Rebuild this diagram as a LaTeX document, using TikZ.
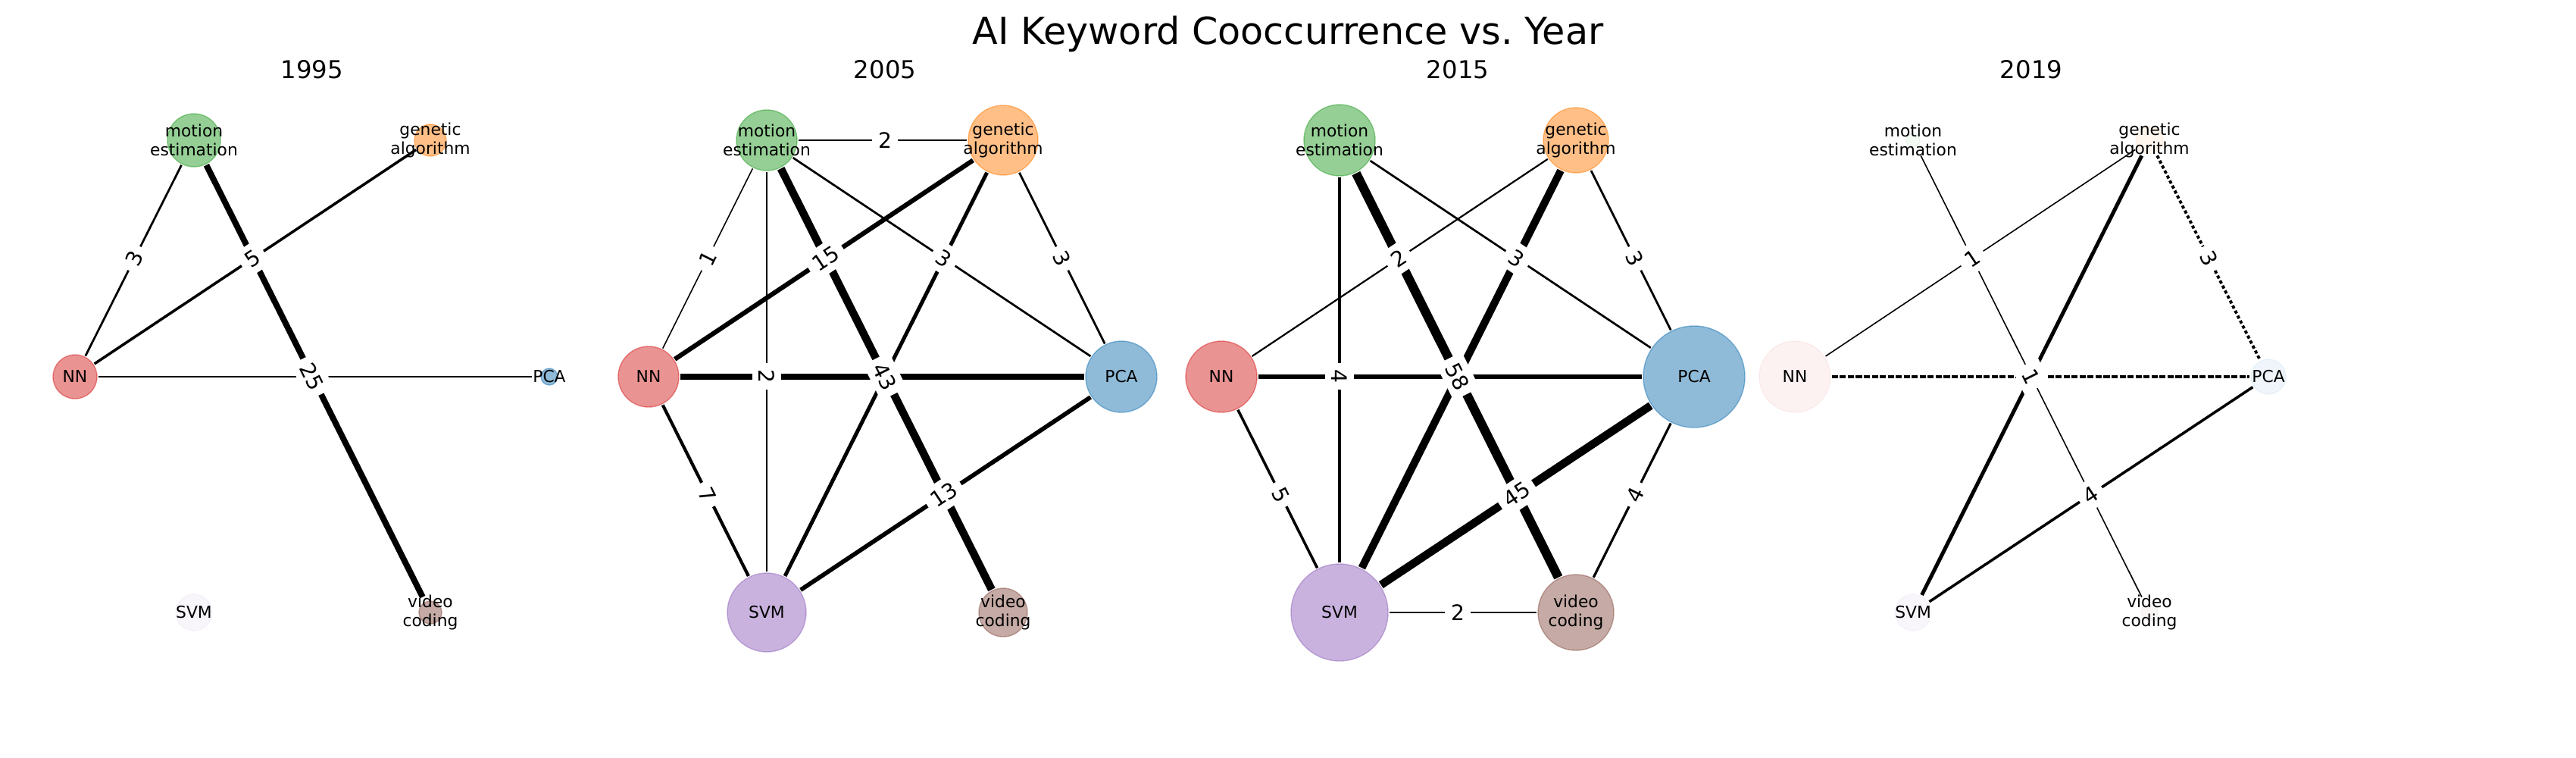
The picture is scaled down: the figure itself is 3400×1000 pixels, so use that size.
\documentclass[tikz,border=0pt]{standalone}
\usepackage{fontspec}
\setmainfont{DejaVu Sans}
\definecolor{tabgreen}{HTML}{2CA02C}
\definecolor{taborange}{HTML}{FF7F0E}
\definecolor{tabred}{HTML}{D62728}
\definecolor{tabblue}{HTML}{1F77B4}
\definecolor{tabpurple}{HTML}{9467BD}
\definecolor{tabbrown}{HTML}{8C564B}
\tikzset{
  keyword/.style={circle, inner sep=0pt, minimum size=#1*0.02cm},
  kwtext/.style={font=\fontsize{6.2}{7.2}\selectfont, align=center, inner sep=0pt},
  cooc/.style={line width={0.45pt*sqrt(#1)}},
  wlabel/.style={font=\fontsize{8}{9}\selectfont, fill=white, inner sep=2.4pt, sloped},
  yeartitle/.style={anchor=base, font=\fontsize{9.2}{11}\selectfont},
}
\begin{document}
\begin{tikzpicture}[x=0.01cm, y=-0.01cm]
  \useasboundingbox (0,0) rectangle (3400,1000);
  \node[anchor=base, font=\fontsize{14}{17}\selectfont] (title) at (1700,58.6) {AI Keyword Cooccurrence vs.\ Year};

  % 1995
  \begin{scope}[shift={(412,497)}]
    \node[yeartitle] (year1) at (0,-394) {1995};
    \foreach \k/\x/\y/\r/\c/\a/\t in {me/-156/-312/35/tabgreen/.5/{motion\\estimation},
        ga/156/-312/21/taborange/.5/{genetic\\algorithm}, nn/-313/0/29/tabred/.5/NN,
        pca/313/0/11/tabblue/.5/PCA, svm/-156/311/24/tabpurple/.06/SVM,
        vc/156/311/15/tabbrown/.5/{video\\coding}}{
      \filldraw[fill=\c, draw=\c, fill opacity=\a, draw opacity=\a, line width=0.4pt] (\x,\y) circle[radius=\r*0.01cm];
      \pgfmathsetmacro\tr{max(\r+1,22)}
      \node[keyword=\tr] (a\k) at (\x,\y) {};
      \node[kwtext] (a\k-t) at (\x,\y) {\t};
    }
    \foreach \u/\v/\w in {nn/me/3, nn/ga/5, nn/pca/3, me/vc/25}
      {\draw[cooc=\w] (a\u) -- (a\v);}
    \foreach \u/\v/\l in {nn/me/3, nn/ga/5, me/vc/25}
      {\path (a\u.center) -- node[wlabel] {\l} (a\v.center);}
  \end{scope}

  % 2005
  \begin{scope}[shift={(1168,497)}]
    \node[yeartitle] (year2) at (0,-394) {2005};
    \foreach \k/\x/\y/\r/\c/\a/\t in {me/-156/-312/40/tabgreen/.5/{motion\\estimation},
        ga/156/-312/46/taborange/.5/{genetic\\algorithm}, nn/-312/0/40/tabred/.5/NN,
        pca/312/0/47/tabblue/.5/PCA, svm/-156/311/52/tabpurple/.5/SVM,
        vc/156/311/32/tabbrown/.5/{video\\coding}}{
      \filldraw[fill=\c, draw=\c, fill opacity=\a, draw opacity=\a, line width=0.4pt] (\x,\y) circle[radius=\r*0.01cm];
      \pgfmathsetmacro\tr{max(\r+1,22)}
      \node[keyword=\tr] (b\k) at (\x,\y) {};
      \node[kwtext] (b\k-t) at (\x,\y) {\t};
    }
    \foreach \u/\v/\w in {me/ga/2, nn/me/1, me/svm/2, me/pca/3, ga/pca/3, nn/ga/15,
        ga/svm/10, nn/pca/27, nn/svm/7, svm/pca/13, me/vc/43}
      {\draw[cooc=\w] (b\u) -- (b\v);}
    \foreach \u/\v/\l in {me/ga/2, nn/me/1, nn/ga/15, me/pca/3, ga/pca/3, me/svm/2,
        nn/svm/7, svm/pca/13, me/vc/43}
      {\path (b\u.center) -- node[wlabel] {\l} (b\v.center);}
  \end{scope}

  % 2015
  \begin{scope}[shift={(1924,497)}]
    \node[yeartitle] (year3) at (0,-394) {2015};
    \foreach \k/\x/\y/\r/\c/\a/\t in {me/-156/-312/47/tabgreen/.5/{motion\\estimation},
        ga/156/-312/43/taborange/.5/{genetic\\algorithm}, nn/-312/0/47/tabred/.5/NN,
        pca/312/0/67/tabblue/.5/PCA, svm/-156/311/64/tabpurple/.5/SVM,
        vc/156/311/50/tabbrown/.5/{video\\coding}}{
      \filldraw[fill=\c, draw=\c, fill opacity=\a, draw opacity=\a, line width=0.4pt] (\x,\y) circle[radius=\r*0.01cm];
      \pgfmathsetmacro\tr{max(\r+1,22)}
      \node[keyword=\tr] (c\k) at (\x,\y) {};
      \node[kwtext] (c\k-t) at (\x,\y) {\t};
    }
    \foreach \u/\v/\w in {nn/ga/2, me/pca/3, ga/pca/3, me/svm/4, nn/svm/5, pca/vc/4,
        svm/vc/2, svm/pca/45, ga/svm/40, nn/pca/12, me/vc/58}
      {\draw[cooc=\w] (c\u) -- (c\v);}
    \foreach \u/\v/\l in {nn/ga/2, me/pca/3, ga/pca/3, me/svm/4, nn/svm/5, pca/vc/4,
        svm/vc/2, svm/pca/45, me/vc/58}
      {\path (c\u.center) -- node[wlabel] {\l} (c\v.center);}
  \end{scope}

  % 2019
  \begin{scope}[shift={(2681,497)}]
    \node[yeartitle] (year4) at (0,-394) {2019};
    \foreach \k/\x/\y/\r/\c/\a/\t in {me/-156/-312/9/tabgreen/.06/{motion\\estimation},
        ga/156/-312/18/taborange/.07/{genetic\\algorithm}, nn/-312/0/47/tabred/.06/NN,
        pca/313/0/23/tabblue/.07/PCA, svm/-156/311/24/tabpurple/.06/SVM,
        vc/156/311/11/tabbrown/.06/{video\\coding}}{
      \filldraw[fill=\c, draw=\c, fill opacity=\a, draw opacity=\a, line width=0.4pt] (\x,\y) circle[radius=\r*0.01cm];
      \pgfmathsetmacro\tr{max(\r+1,22)}
      \node[keyword=\tr] (d\k) at (\x,\y) {};
      \node[kwtext] (d\k-t) at (\x,\y) {\t};
    }
    \foreach \u/\v/\w in {me/vc/1, nn/ga/1, ga/svm/10, svm/pca/5}
      {\draw[cooc=\w] (d\u) -- (d\v);}
    \draw[cooc=5, dash pattern=on 2.3pt off 0.7pt] (dnn) -- (dpca);
    \draw[cooc=6, dash pattern=on 1.2pt off 0.9pt] (dga) -- (dpca);
    \foreach \u/\v/\l in {nn/ga/1, ga/pca/3, svm/pca/4, me/vc/1}
      {\path (d\u.center) -- node[wlabel] {\l} (d\v.center);}
  \end{scope}
\end{tikzpicture}
\end{document}
